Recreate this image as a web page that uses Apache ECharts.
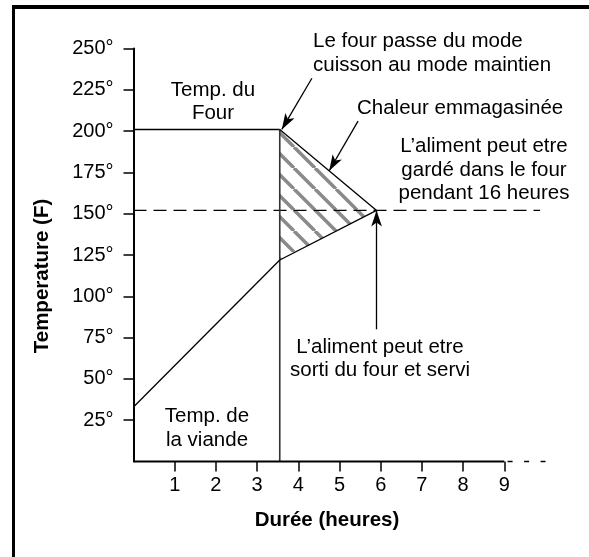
<!DOCTYPE html>
<html>
<head>
<meta charset="utf-8">
<script src="https://cdn.jsdelivr.net/npm/echarts@6/dist/echarts.min.js"></script>
<style>
  html, body { margin: 0; padding: 0; background: #fff; }
  #main { width: 589px; height: 557px; }
</style>
</head>
<body>
<div id="main"></div>
<script>
// ticks
const hourTicks = [1, 2, 3, 4, 5, 6, 7, 8, 9];
const degreeTicks = [25, 50, 75, 100, 125, 150, 175, 200, 225, 250];

// courbes (heures, °F)
const ovenTime = [0, 3.55];
const ovenTemp = [201, 201];
const meatTime = [0, 3.55];
const meatTemp = [33, 122];
const holdTime = [3.55, 5.9];
const holdOvenTemp = [201, 152];
const holdMeatTemp = [122, 152];
const switchTime = 3.55;
const serveTemp = 152;
const serveLineEnd = 9.87;
const axisSolidTime = [0, 9];
const axisDashTime = [9.08, 10];

// fleches: depart -> arrivee
const arrowFrom = [[4.33, 232], [5.45, 206], [5.9, 80]];
const arrowTo = [[3.6, 201], [4.75, 176], [5.9, 152]];

const zip = (a, b) => a.map((v, i) => [v, b[i]]);

// motif hachure
const hatch = document.createElement('canvas');
hatch.width = 21; hatch.height = 21;
const hc = hatch.getContext('2d');
hc.strokeStyle = '#8a8a8a';
hc.lineWidth = 3.5;
[-21, 0, 21].forEach(k => {
  hc.beginPath(); hc.moveTo(k, 0); hc.lineTo(k + 21, 21); hc.stroke();
});

const FONT = '"Liberation Sans", Arial, sans-serif';
const txt = (text, x, y, align, extra) => ({
  type: 'text', x: x, y: y, silent: true,
  style: Object.assign({
    text: text, fill: '#000', textAlign: align, textVerticalAlign: 'middle',
    font: '20.5px ' + FONT, lineHeight: 23.3
  }, extra || {})
});

const thin = { color: '#000', width: 1.3 };

const option = {
  animation: false,
  grid: { left: 133.5, right: 43.5, top: 48.5, bottom: 95.5 },
  xAxis: {
    type: 'value', min: 0, max: 10, interval: 1,
    splitLine: { show: false },
    axisLine: { show: false },
    axisTick: { show: true, customValues: hourTicks, length: 10, lineStyle: { color: '#000', width: 1.5 } },
    axisLabel: { customValues: hourTicks, margin: 14, color: '#000', fontSize: 20, fontFamily: FONT }
  },
  yAxis: {
    type: 'value', min: 0, max: 250, interval: 25,
    splitLine: { show: false },
    axisLine: { show: true, lineStyle: { color: '#000', width: 2 } },
    axisTick: { show: true, customValues: degreeTicks, length: 10, lineStyle: { color: '#000', width: 1.5 } },
    axisLabel: {
      customValues: degreeTicks, margin: 20, color: '#000', fontSize: 20, fontFamily: FONT,
      formatter: v => v + '°'
    }
  },
  series: [
    {
      type: 'custom',
      silent: true,
      data: [[holdTime[0], holdOvenTemp[0]]],
      renderItem: (params, api) => {
        const pts = [
          api.coord([holdTime[0], holdOvenTemp[0]]),
          api.coord([holdTime[1], holdOvenTemp[1]]),
          api.coord([holdTime[0], holdMeatTemp[0]])
        ];
        return { type: 'polygon', shape: { points: pts }, style: { fill: { image: hatch, repeat: 'repeat' } } };
      }
    },
    {
      type: 'line', symbol: 'none', silent: true, clip: false,
      data: [[0, serveTemp], [serveLineEnd, serveTemp]],
      lineStyle: { color: '#000', width: 1.4, type: [13, 7] }
    },
    {
      type: 'line', symbol: 'none', silent: true,
      data: zip(ovenTime, ovenTemp), lineStyle: { color: '#000', width: 1.6 }
    },
    {
      type: 'line', symbol: 'none', silent: true,
      data: [[switchTime, 0], [switchTime, ovenTemp[1]]], lineStyle: { color: '#333', width: 1.6 }
    },
    {
      type: 'line', symbol: 'none', silent: true,
      data: zip(meatTime, meatTemp), lineStyle: thin
    },
    {
      type: 'line', symbol: 'none', silent: true,
      data: zip(holdTime, holdOvenTemp), lineStyle: thin
    },
    {
      type: 'line', symbol: 'none', silent: true,
      data: zip(holdTime, holdMeatTemp), lineStyle: thin
    },
    {
      // axe des heures, trait plein jusqu'a 9
      type: 'line', symbol: 'none', silent: true, clip: false,
      data: axisSolidTime.map(t => [t, 0]),
      lineStyle: { color: '#000', width: 2 }
    },
    {
      type: 'line', symbol: 'none', silent: true, clip: false,
      data: axisDashTime.map(t => [t, 0]),
      lineStyle: { color: '#000', width: 1.3, type: [5, 11.5] },
      markLine: {
        silent: true, animation: false,
        symbol: ['none', 'arrow'], symbolSize: [8, 16],
        label: { show: false },
        lineStyle: { color: '#000', width: 1.3, type: 'solid' },
        data: arrowFrom.map((p, i) => [{ coord: p }, { coord: arrowTo[i] }])
      }
    }
  ],
  graphic: [
    { type: 'line', silent: true, shape: { x1: 12, y1: 7, x2: 589, y2: 7 }, style: { stroke: '#000', lineWidth: 4 } },
    { type: 'line', silent: true, shape: { x1: 13.5, y1: 5, x2: 13.5, y2: 557 }, style: { stroke: '#000', lineWidth: 3 } },
    txt('Temp. du\nFour', 213, 101.5, 'center'),
    txt('Le four passe du mode\ncuisson au mode maintien', 313, 53.3, 'left'),
    txt('Chaleur emmagasinée', 357, 108, 'left'),
    txt('L’aliment peut etre\ngardé dans le four\npendant 16 heures', 484, 170, 'center'),
    txt('L’aliment peut etre\nsorti du four et servi', 380, 358.5, 'center'),
    txt('Temp. de\nla viande', 207, 428.3, 'center'),
    txt('Durée (heures)', 327, 520, 'center', { font: 'bold 20.5px ' + FONT }),
    Object.assign(txt('Temperature (F)', 42.3, 276, 'center', { font: 'bold 20.5px ' + FONT }), { rotation: Math.PI / 2 })
  ]
};

const myChart = echarts.init(document.getElementById('main'));
myChart.setOption(option);
</script>
</body>
</html>
